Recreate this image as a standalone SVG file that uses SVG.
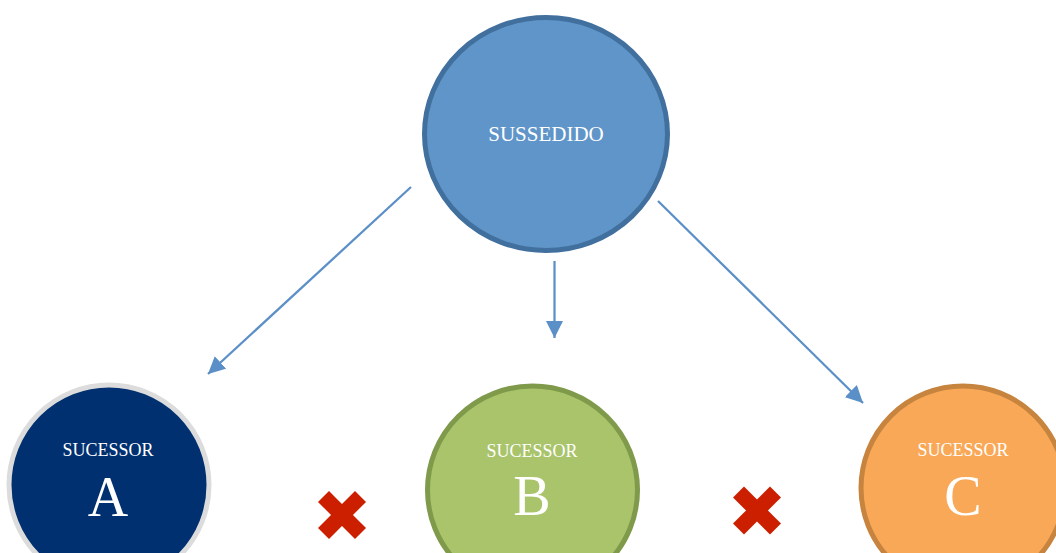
<svg xmlns="http://www.w3.org/2000/svg" width="1056" height="553" viewBox="0 0 1056 553">
<style>
.lbl{font-family:"Liberation Serif","Times New Roman",serif;fill:#ffffff;text-anchor:middle}
.small{font-size:18px}
.big{font-size:56px}
.conn{stroke:#5b8fc7;stroke-width:2.25;fill:none}
.x{stroke:#cc1f00;stroke-width:15.5;stroke-linecap:butt}
</style>
<defs>
<marker id="ah" markerUnits="userSpaceOnUse" markerWidth="17" markerHeight="17" viewBox="0 0 17 17" refX="17" refY="8.5" orient="auto">
<path d="M0,0 L17,8.5 L0,17 Z" fill="#5b8fc7"/>
</marker>
</defs>
<rect width="1056" height="553" fill="#ffffff"/>
<g id="connectors">
<line class="conn" x1="411" y1="187" x2="208" y2="374" marker-end="url(#ah)"/>
<line class="conn" x1="554.5" y1="261" x2="554.5" y2="338" marker-end="url(#ah)"/>
<line class="conn" x1="658" y1="201" x2="863" y2="403" marker-end="url(#ah)"/>
</g>
<g id="sussedido">
<ellipse cx="546" cy="134" rx="121.5" ry="116.5" fill="#5f95c8" stroke="#41709e" stroke-width="5"/>
<text class="lbl" x="546" y="141" font-size="21">SUSSEDIDO</text>
</g>
<g id="sucessorA">
<circle cx="109" cy="485" r="100" fill="#003070" stroke="#dcdcdc" stroke-width="5"/>
<text class="lbl small" x="108" y="456">SUCESSOR</text>
<text class="lbl big" x="108" y="516">A</text>
</g>
<g id="sucessorB">
<ellipse cx="532.5" cy="490" rx="105" ry="104" fill="#a9c46a" stroke="#7f9a4a" stroke-width="5"/>
<text class="lbl small" x="532" y="457">SUCESSOR</text>
<text class="lbl big" x="532" y="515">B</text>
</g>
<g id="sucessorC">
<circle cx="963" cy="488" r="102" fill="#f9a857" stroke="#c7843f" stroke-width="5"/>
<text class="lbl small" x="963" y="456">SUCESSOR</text>
<text class="lbl big" x="963" y="515">C</text>
</g>
<g id="cross1">
<line class="x" x1="323.5" y1="496.5" x2="360.5" y2="533.5"/>
<line class="x" x1="360.5" y1="496.5" x2="323.5" y2="533.5"/>
</g>
<g id="cross2">
<line class="x" x1="738.5" y1="492" x2="775.5" y2="529"/>
<line class="x" x1="775.5" y1="492" x2="738.5" y2="529"/>
</g>
</svg>
